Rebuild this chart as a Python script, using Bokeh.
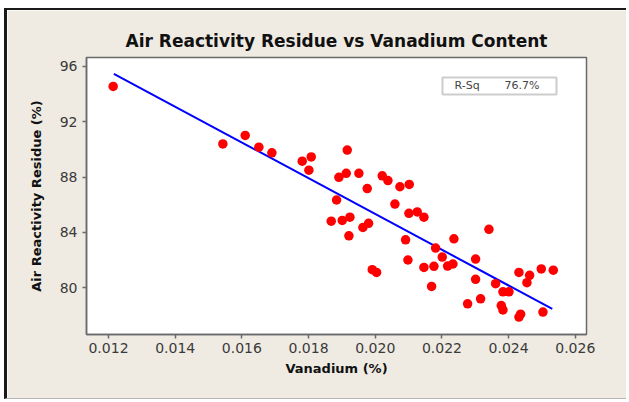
from bokeh.plotting import figure
from bokeh.models import Range1d, FixedTicker, PrintfTickFormatter, Label, BoxAnnotation
from bokeh.embed import file_html
from bokeh.resources import INLINE

# Data
vanadium = [0.01214, 0.01543, 0.01610, 0.01651, 0.01690, 0.01781, 0.01808, 0.01801,
            0.01916, 0.01891, 0.01913, 0.01951, 0.02021, 0.02038, 0.02074, 0.02102,
            0.01976, 0.01884, 0.02059, 0.02101, 0.02126, 0.02146, 0.01868, 0.01901,
            0.01924, 0.01963, 0.01980, 0.01921, 0.02091, 0.02341, 0.02236, 0.02181,
            0.02201, 0.01991, 0.02004, 0.02098, 0.02146, 0.02176, 0.02217, 0.02233,
            0.02301, 0.02169, 0.02301, 0.02361, 0.02383, 0.02401, 0.02431, 0.02463,
            0.02455, 0.02498, 0.02534, 0.02277, 0.02316, 0.02378, 0.02383, 0.02431,
            0.02436, 0.02503]
residue = [94.56, 90.40, 91.01, 90.16, 89.75, 89.15, 89.46, 88.50,
           89.95, 87.98, 88.27, 88.27, 88.09, 87.75, 87.30, 87.47,
           87.17, 86.34, 86.05, 85.38, 85.48, 85.10, 84.81, 84.86,
           85.10, 84.35, 84.65, 83.75, 83.46, 84.22, 83.53, 82.86,
           82.21, 81.30, 81.10, 82.00, 81.46, 81.54, 81.56, 81.71,
           82.07, 80.09, 80.60, 80.29, 79.70, 79.70, 81.10, 80.89,
           80.36, 81.35, 81.26, 78.83, 79.19, 78.70, 78.39, 77.87,
           78.08, 78.23]
fit_x = [0.01216, 0.02531]
fit_y = [95.47, 78.46]
x_ticks = [0.012, 0.014, 0.016, 0.018, 0.020, 0.022, 0.024, 0.026]
y_ticks = [80, 84, 88, 92, 96]
rsq_label = "R-Sq"
rsq_value = "76.7%"

FONT = "DejaVu Sans"
BEIGE = "#EFEBE3"
FRAME = "#6a6a6a"

p = figure(width=622, height=391, output_backend="svg", toolbar_location=None,
           x_range=Range1d(0.01134, 0.026336), y_range=Range1d(76.61, 96.65),
           min_border_left=79, min_border_right=43, min_border_top=47, min_border_bottom=67,
           title="Air Reactivity Residue vs Vanadium Content")
p.styles = {"margin-left": "4px", "margin-top": "8px",
            "border-left": "3px solid #1a1a1a", "border-top": "2px solid #1a1a1a",
            "border-bottom": "1px solid #b5b5b5"}

p.border_fill_color = BEIGE
p.background_fill_color = "white"
p.outline_line_color = FRAME
p.outline_line_width = 1.5
p.xgrid.visible = False
p.ygrid.visible = False

p.title.align = "center"
p.title.text_font = FONT
p.title.text_font_size = "17px"
p.title.text_font_style = "bold"
p.title.text_color = "#111111"
p.title.standoff = 14

for ax in (p.xaxis[0], p.yaxis[0]):
    ax.axis_line_color = FRAME
    ax.axis_line_width = 1.5
    ax.major_tick_line_color = FRAME
    ax.major_tick_line_width = 1.5
    ax.major_tick_in = 0
    ax.major_tick_out = 4
    ax.minor_tick_line_color = None
    ax.major_label_text_font = FONT
    ax.major_label_text_font_size = "14px"
    ax.major_label_text_color = "#3a3a3a"
    ax.axis_label_text_font = FONT
    ax.axis_label_text_font_size = "13px"
    ax.axis_label_text_font_style = "bold"
    ax.axis_label_text_color = "#111111"

p.xaxis.ticker = FixedTicker(ticks=x_ticks)
p.xaxis.formatter = PrintfTickFormatter(format="%.3f")
p.xaxis.axis_label = "Vanadium (%)"
p.xaxis.major_label_standoff = 4
p.xaxis.axis_label_standoff = 5

p.yaxis.ticker = FixedTicker(ticks=y_ticks)
p.yaxis.axis_label = "Air Reactivity Residue (%)"
p.yaxis.major_label_standoff = 5
p.yaxis.axis_label_standoff = 13

p.line(fit_x, fit_y, line_color="#0000FF", line_width=2)
p.scatter(vanadium, residue, size=9.5, fill_color="#FF0000", line_color=None)

# R-Sq box
p.add_layout(BoxAnnotation(left=0.022017, right=0.025436, top=95.207, bottom=93.982,
                           fill_color="white", fill_alpha=1.0,
                           line_color="#555555", line_width=2))
p.add_layout(Label(x=0.022380, y=94.59, text=rsq_label, text_font=FONT,
                   text_font_size="11px", text_color="#444444", text_baseline="middle"))
p.add_layout(Label(x=0.023880, y=94.59, text=rsq_value, text_font=FONT,
                   text_font_size="11px", text_color="#444444", text_baseline="middle"))

open("out.html", "w").write(file_html(p, INLINE))
